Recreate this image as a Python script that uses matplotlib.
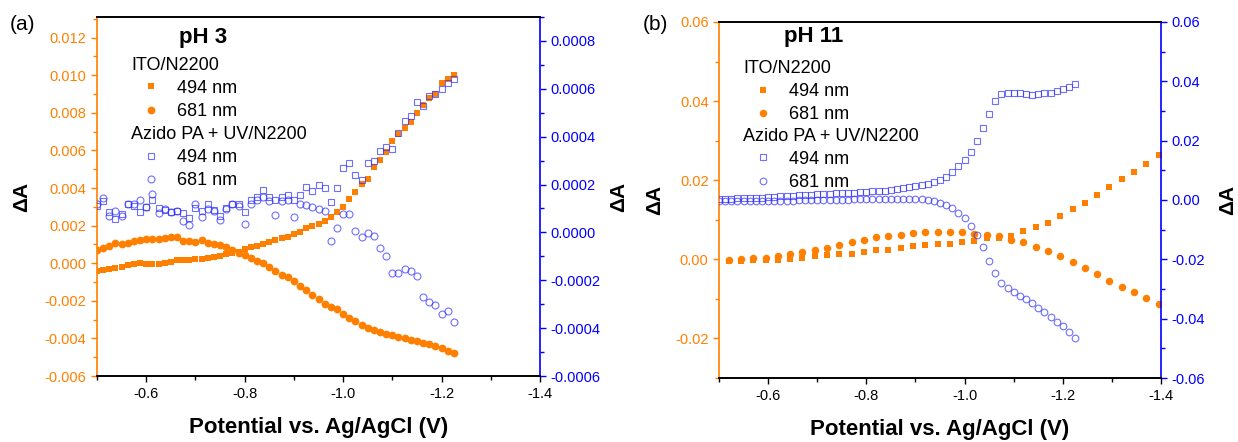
import matplotlib
matplotlib.use("Agg")
import matplotlib.pyplot as plt
from matplotlib.ticker import MultipleLocator, FormatStrFormatter

plt.rcParams['font.family'] = ['Liberation Sans', 'DejaVu Sans']
plt.rcParams['axes.unicode_minus'] = False

ORANGE = '#FF8000'
BLUE = '#0000FF'
BLUE_MK = (0.2, 0.2, 1.0, 0.7)

# potential sweep (V vs Ag/AgCl)
potential_fine = [-0.5, -0.5125, -0.525, -0.5375, -0.55, -0.5625, -0.575, -0.5875, -0.6, -0.6125,
                  -0.625, -0.6375, -0.65, -0.6625, -0.675, -0.6875, -0.7, -0.7125, -0.725, -0.7375,
                  -0.75, -0.7625, -0.775, -0.7875, -0.8, -0.8125, -0.825, -0.8375, -0.85, -0.8625,
                  -0.875, -0.8875, -0.9, -0.9125, -0.925, -0.9375, -0.95, -0.9625, -0.975, -0.9875,
                  -1.0, -1.0125, -1.025, -1.0375, -1.05, -1.0625, -1.075, -1.0875, -1.1, -1.1125,
                  -1.125, -1.1375, -1.15, -1.1625, -1.175, -1.1875, -1.2, -1.2125, -1.225]
potential_coarse = [-0.52, -0.545, -0.57, -0.595, -0.62, -0.645, -0.67, -0.695, -0.72, -0.745,
                    -0.77, -0.795, -0.82, -0.845, -0.87, -0.895, -0.92, -0.945, -0.97, -0.995,
                    -1.02, -1.045, -1.07, -1.095, -1.12, -1.145, -1.17, -1.195, -1.22, -1.245,
                    -1.27, -1.295, -1.32, -1.345, -1.37, -1.395]

# (a) pH 3
ph3_ito_494 = [-0.0004, -0.00035, -0.0003, -0.00025, -0.00018, -0.0001, -0.00005, 0.00002, -0.00002, -0.00002,
               -0.00002, 0.00002, 0.00008, 0.00016, 0.00016, 0.00018, 0.00021, 0.00023, 0.00027, 0.00035,
               0.0004, 0.00049, 0.00056, 0.00062, 0.00074, 0.00084, 0.00094, 0.00103, 0.00113, 0.00124,
               0.00135, 0.00142, 0.00155, 0.00164, 0.00186, 0.00197, 0.0021, 0.00225, 0.00245, 0.0027,
               0.003, 0.0034, 0.0038, 0.0042, 0.0045, 0.0051, 0.0055, 0.0059, 0.0065, 0.0069,
               0.0072, 0.0075, 0.008, 0.0084, 0.0088, 0.009, 0.0096, 0.0098, 0.0100]
ph3_ito_681 = [0.0007, 0.0008, 0.0009, 0.0011, 0.001, 0.0011, 0.00118, 0.00125, 0.0013, 0.00127,
               0.0013, 0.00136, 0.0014, 0.00138, 0.00118, 0.0012, 0.00115, 0.00122, 0.0011, 0.001,
               0.00095, 0.00085, 0.0007, 0.00056, 0.00044, 0.0003, 0.00014, 0.0, -0.0002, -0.0004,
               -0.0006, -0.00075, -0.00095, -0.0012, -0.0014, -0.0017, -0.0019, -0.00215, -0.00235, -0.00245,
               -0.0027, -0.0029, -0.0031, -0.0033, -0.00345, -0.00357, -0.00365, -0.00374, -0.0038, -0.0039,
               -0.004, -0.00408, -0.00415, -0.00424, -0.0043, -0.0044, -0.00452, -0.00466, -0.00475]
ph3_azido_494 = [0.00011, 0.00013, 0.000085, 0.000055, 0.000075, 0.00012, 0.00011, 0.000085, 0.000105, 0.000135,
                 0.0001, 0.000093, 0.000086, 0.00009, 0.00008, 0.00006, 0.0001, 0.00009, 0.00012, 0.000093,
                 0.00007, 0.0001, 0.00012, 0.00012, 0.000086, 0.000135, 0.00015, 0.000177, 0.00015, 0.000135,
                 0.00015, 0.000156, 0.000135, 0.000156, 0.00019, 0.000175, 0.0002, 0.000187, 0.000125, 0.000184,
                 0.00027, 0.00029, 0.00024, 0.00022, 0.00029, 0.0003, 0.00034, 0.000355, 0.00035, 0.000415,
                 0.000466, 0.000487, 0.000543, 0.00053, 0.00057, 0.00058, 0.0006, 0.000624, 0.000641]
ph3_azido_681 = [0.00012, 0.000145, 0.000068, 0.00009, 0.000068, 0.00012, 0.00012, 0.000135, 0.000105, 0.00016,
                 0.00008, 0.000096, 0.000086, 0.00009, 0.000049, 0.00003, 0.000119, 0.000065, 0.000096, 0.00009,
                 0.000052, 0.000096, 0.00012, 0.00011, 0.000034, 0.00012, 0.000135, 0.000147, 0.00013, 0.000072,
                 0.00013, 0.000135, 0.000063, 0.00012, 0.000114, 0.000105, 0.000096, 0.00009, -0.000035, 0.000017,
                 0.000077, 0.000077, 0.000007, -0.000021, -0.000004, -0.000015, -0.000065, -0.0001, -0.000168, -0.000168,
                 -0.000151, -0.000162, -0.000183, -0.00027, -0.00029, -0.000305, -0.000342, -0.000328, -0.000375]

# (b) pH 11
ph11_ito_494 = [-0.0004, -0.0003, -0.0002, -0.0002, -0.0001, 0.0002, 0.0004, 0.0008, 0.001, 0.0013,
                0.0014, 0.0019, 0.0023, 0.0024, 0.0029, 0.0033, 0.0037, 0.0039, 0.004, 0.0043,
                0.0047, 0.0054, 0.0055, 0.006, 0.0072, 0.0082, 0.0093, 0.011, 0.0126, 0.0143,
                0.0163, 0.0182, 0.0204, 0.022, 0.0242, 0.0264]
ph11_ito_681 = [-0.0001, 0.0001, 0.0004, 0.0004, 0.0009, 0.0013, 0.0018, 0.0023, 0.0029, 0.0035,
                0.0043, 0.005, 0.0056, 0.0059, 0.0062, 0.0066, 0.0069, 0.007, 0.0069, 0.0068,
                0.0063, 0.0062, 0.006, 0.0049, 0.0043, 0.0032, 0.0021, 0.0009, -0.0006, -0.0023,
                -0.0037, -0.0054, -0.0069, -0.0082, -0.0097, -0.0113]
ph11_azido_494 = [0.0005, 0.0005, 0.0005, 0.0006, 0.0006, 0.0007, 0.0008, 0.0008, 0.0009, 0.001,
                  0.0012, 0.0013, 0.0014, 0.0016, 0.0017, 0.0018, 0.0019, 0.002, 0.0021, 0.0022,
                  0.0023, 0.0024, 0.0025, 0.0026, 0.0028, 0.0029, 0.003, 0.0032, 0.0034, 0.0037,
                  0.0040, 0.0043, 0.0047, 0.0051, 0.0054, 0.0062, 0.0068, 0.0079, 0.0096, 0.0113,
                  0.0134, 0.0162, 0.0200, 0.0242, 0.0290, 0.0334, 0.0357, 0.0362, 0.0362, 0.0362,
                  0.0356, 0.0354, 0.0356, 0.0360, 0.0360, 0.0368, 0.0375, 0.0382, 0.0390]
ph11_azido_681 = [-0.0002, -0.0002, -0.0002, -0.0002, -0.0003, -0.0003, -0.0004, -0.0004, -0.0003, -0.0003,
                  -0.0002, -0.0002, -0.0002, -0.0001, -0.0001, -0.0001, 0.0, 0.0, 0.0, 0.0001,
                  0.0001, 0.0001, 0.0002, 0.0002, 0.0003, 0.0003, 0.0003, 0.0004, 0.0004, 0.0004,
                  0.0004, 0.0003, 0.0003, 0.0002, 0.0, -0.0003, -0.0011, -0.0017, -0.0028, -0.0043,
                  -0.0062, -0.0086, -0.0118, -0.0159, -0.0205, -0.0245, -0.0281, -0.0298, -0.0309, -0.0323,
                  -0.0335, -0.0348, -0.0363, -0.0377, -0.0393, -0.0410, -0.0425, -0.0444, -0.0464]

W, H = 1238, 442
fig = plt.figure(figsize=(W / 100, H / 100), dpi=100)


def px_rect(left, top, right, bottom):
    return [left / W, 1 - bottom / H, (right - left) / W, (bottom - top) / H]


def draw_panel(box, x_ito, ito494, ito681, x_az, az494, az681,
               ylim_l, ylim_r, step_l, step_r, fmt_l, fmt_r,
               ph_text, ph_xy, leg_x, leg_y1, leg_y2, lab_l, lab_r, ms):
    ax = fig.add_axes(px_rect(*box))
    ax2 = ax.twinx()
    width = box[2] - box[0]
    height = box[3] - box[1]

    h1, = ax.plot(x_ito, ito494, 's', color=ORANGE, ms=ms, mew=0)
    h2, = ax.plot(x_ito, ito681, 'o', color=ORANGE, ms=ms + 0.6, mew=0)
    h3, = ax2.plot(x_az, az494, 's', mfc='none', mec=BLUE_MK, ms=ms - 0.4, mew=0.8)
    h4, = ax2.plot(x_az, az681, 'o', mfc='none', mec=BLUE_MK, ms=ms, mew=0.8)

    ax.set_xlim(-0.5, -1.4)
    ax.set_ylim(*ylim_l)
    ax2.set_ylim(*ylim_r)

    ax.xaxis.set_major_locator(MultipleLocator(0.2))
    ax.xaxis.set_minor_locator(MultipleLocator(0.1))
    ax.xaxis.set_major_formatter(FormatStrFormatter('%.1f'))
    ax.yaxis.set_major_locator(MultipleLocator(step_l))
    ax.yaxis.set_minor_locator(MultipleLocator(step_l / 2))
    ax.yaxis.set_major_formatter(FormatStrFormatter(fmt_l))
    ax2.yaxis.set_major_locator(MultipleLocator(step_r))
    ax2.yaxis.set_minor_locator(MultipleLocator(step_r / 2))
    ax2.yaxis.set_major_formatter(FormatStrFormatter(fmt_r))

    for a in (ax, ax2):
        for s in a.spines.values():
            s.set_linewidth(1.2)
    ax.spines['right'].set_visible(False)
    ax2.spines['left'].set_visible(False)
    ax.spines['left'].set_color(ORANGE)
    ax2.spines['right'].set_color(BLUE)

    ax.tick_params(axis='x', which='major', length=4, width=1, labelsize=10.5, pad=4)
    ax.tick_params(axis='x', which='minor', length=3, width=1)
    ax.tick_params(axis='y', which='both', colors=ORANGE, labelsize=10.5, width=1)
    ax.tick_params(axis='y', which='major', length=4)
    ax.tick_params(axis='y', which='minor', length=3)
    ax2.tick_params(axis='y', which='both', colors=BLUE, labelsize=10.5, width=1)
    ax2.tick_params(axis='y', which='major', length=4)
    ax2.tick_params(axis='y', which='minor', length=3)

    ax.set_xlabel('Potential vs. Ag/AgCl (V)', fontsize=16, fontweight='bold')
    ax.xaxis.label.set_va('center')
    ax.xaxis.set_label_coords(0.5, -51 / height)
    for a, xc in ((ax, lab_l), (ax2, lab_r)):
        a.set_ylabel('ΔA', fontsize=15, fontweight='bold')
        a.yaxis.label.set_va('center')
        a.yaxis.set_label_coords(xc / width, 0.5)

    ax.text(ph_xy[0], ph_xy[1], ph_text, transform=ax.transAxes, ha='center', va='center',
            fontsize=16, fontweight='bold')

    leg_kw = dict(loc='upper left', frameon=False, fontsize=13, title_fontsize=13,
                  alignment='left', borderpad=0, borderaxespad=0, handlelength=2.2,
                  handletextpad=0.35, labelspacing=0.34, numpoints=1)
    leg1 = ax.legend([h1, h2], ['494 nm', '681 nm'], title='ITO/N2200',
                     bbox_to_anchor=(leg_x, leg_y1), **leg_kw)
    leg1.set_zorder(10)
    ax2.legend([h3, h4], ['494 nm', '681 nm'], title='Azido PA + UV/N2200',
               bbox_to_anchor=(leg_x, leg_y2), **leg_kw)
    return ax, ax2


draw_panel((97, 17, 540, 376), potential_fine, ph3_ito_494, ph3_ito_681,
           potential_fine, ph3_azido_494, ph3_azido_681,
           (-0.006, 0.0131), (-0.0006, 0.0009), 0.002, 0.0002, '%.3f', '%.4f',
           'pH 3', (0.239, 0.944), 0.0767, 0.8896, 0.6972, -75, 522, 5.0)

draw_panel((719, 22, 1161, 378), potential_coarse, ph11_ito_494, ph11_ito_681,
           potential_fine, ph11_azido_494, ph11_azido_681,
           (-0.03, 0.06), (-0.06, 0.06), 0.02, 0.02, '%.2f', '%.2f',
           'pH 11', (0.214, 0.959), 0.055, 0.893, 0.7034, -64, 509, 4.8)

fig.text(22 / W, 1 - 24 / H, '(a)', ha='center', va='center', fontsize=15)
fig.text(655 / W, 1 - 24 / H, '(b)', ha='center', va='center', fontsize=15)

fig.savefig('out.png', dpi=100)
